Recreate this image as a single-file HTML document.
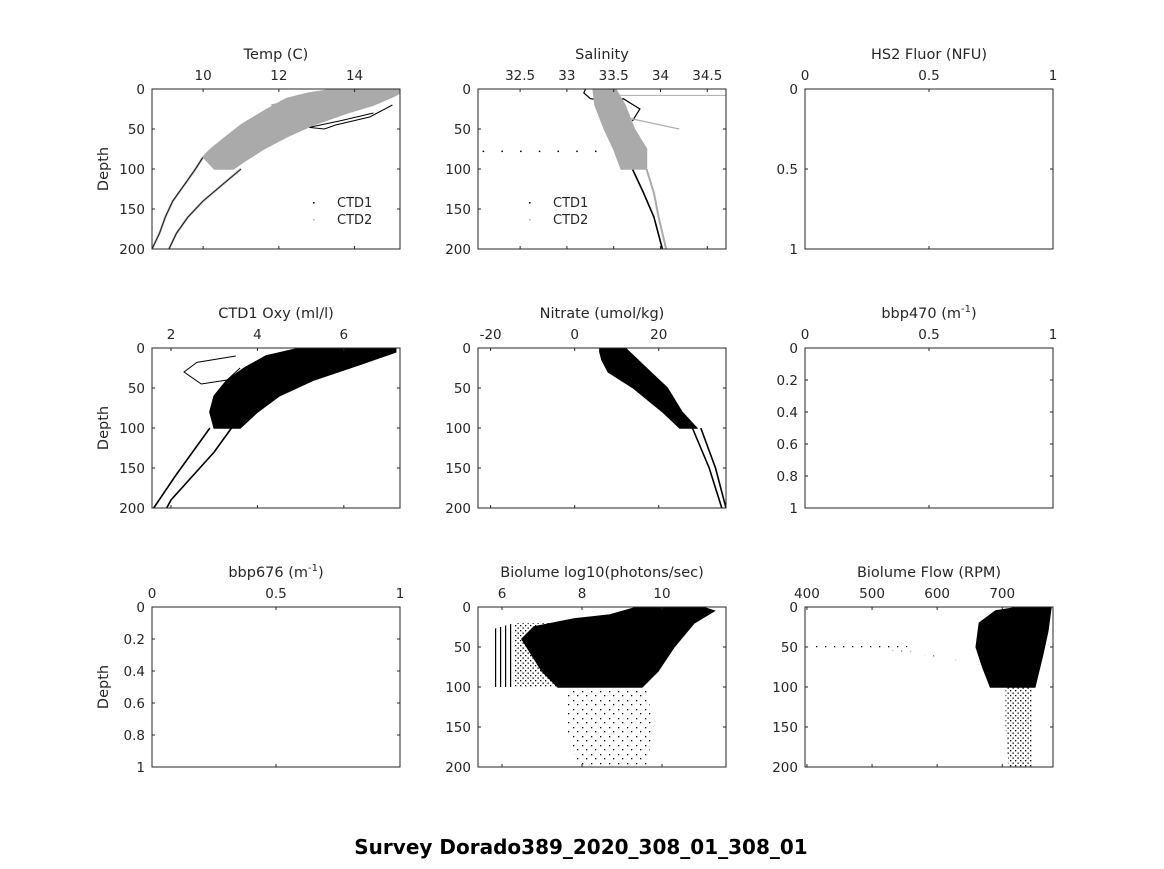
<!DOCTYPE html>
<html><head><meta charset="utf-8"><style>
body{margin:0;background:#fff;width:1164px;height:864px;overflow:hidden}
svg text{font-family:"DejaVu Sans","Liberation Sans",sans-serif;fill:#262626}
</style></head><body>
<svg id="fig" width="1164" height="864" xmlns="http://www.w3.org/2000/svg">
<defs>
<pattern id="sparse" width="5" height="5" patternUnits="userSpaceOnUse"><rect x="0" y="0" width="1.3" height="1.3" fill="#000"/><rect x="2.5" y="2.5" width="1.3" height="1.3" fill="#000"/></pattern>
<pattern id="vlines" width="5" height="5" patternUnits="userSpaceOnUse"><rect x="0" y="0" width="1.2" height="5" fill="#000"/></pattern>
<pattern id="rare" width="9" height="9" patternUnits="userSpaceOnUse"><rect x="1" y="2" width="1.3" height="1.3" fill="#000"/><rect x="6" y="7" width="1.3" height="1.3" fill="#000"/></pattern>
</defs>
<text x="581" y="854" text-anchor="middle" font-size="20" font-weight="bold" style="fill:#000">Survey Dorado389_2020_308_01_308_01</text>
</svg>
<script>
// ---- data (depth, value) ----
const tempBand=[[0,15.2],[0,13.5],[5,12.8],[12,12.2],[25,11.7],[45,11.0],[60,10.6],[75,10.2],[85,10.0],[100,10.3],[100,10.8],[90,11.1],[75,11.6],[60,12.2],[45,12.9],[30,13.8],[20,14.5],[10,15.0],[5,15.2]];
const tempDeepA=[[85,10.0],[100,9.8],[120,9.5],[140,9.2],[160,9.0],[180,8.85],[200,8.65]];
const tempDeepB=[[100,11.0],[120,10.5],[140,10.0],[160,9.6],[180,9.3],[200,9.1]];
const tempLoop=[[5,13.2],[15,12.3],[20,11.8],[15,12.4],[5,13.3],[0,13.8]];
const tempLoop2=[[20,15.0],[35,14.4],[45,13.5],[50,13.2],[48,12.8],[40,13.6],[30,14.5]];
const salBand=[[0,33.28],[20,33.3],[50,33.4],[75,33.5],[100,33.58],[100,33.85],[75,33.85],[50,33.72],[20,33.62],[0,33.52]];
const salDeepA=[[100,33.7],[130,33.82],[160,33.93],[200,34.02]];
const salDeepB=[[100,33.85],[130,33.93],[160,33.98],[200,34.06]];
const salTop=[[0,33.2],[5,33.18],[12,33.25],[15,33.4],[20,33.55],[12,33.6],[25,33.78],[40,33.7]];
const salSpike=[[35,33.6],[50,34.2]];
const salSurf=[[8,33.5],[8,34.75]];
const salDots=[32.1,32.3,32.5,32.7,32.9,33.1,33.3];
const oxyBand=[[0,7.2],[0,5.0],[10,4.2],[25,3.7],[40,3.3],[60,3.0],[80,2.9],[100,3.0],[100,3.6],[80,4.0],[60,4.5],[40,5.3],[20,6.4],[5,7.2]];
const oxyDeepA=[[100,2.9],[130,2.5],[160,2.1],[200,1.6]];
const oxyDeepB=[[100,3.4],[130,3.0],[160,2.5],[190,2.0],[200,1.9]];
const oxyLoop=[[10,3.5],[18,2.6],[30,2.3],[45,2.7],[40,3.3],[25,3.6]];
const nitBand=[[0,6],[5,6],[15,6.5],[30,8],[50,14],[80,21],[100,25],[100,29],[80,25.5],[50,22],[20,16],[0,12]];
const nitDeepA=[[100,28],[150,32],[200,35]];
const nitDeepB=[[100,30],[150,33.5],[200,36]];
const bioDense=[[0,9.4],[0,11.0],[5,11.3],[20,10.8],[50,10.3],[80,9.9],[100,9.5],[100,7.4],[80,7.0],[40,6.5],[25,6.8],[15,7.8],[10,8.7]];
const bioLines=[[20,6.3],[100,6.3],[100,5.75],[28,5.75]];
const bioSparse=[[20,6.3],[20,7.2],[100,7.5],[100,6.3]];
const bioDeep=[[100,7.6],[100,9.6],[150,9.8],[200,9.6],[200,7.9],[150,7.6]];
const flowDense=[[0,728],[0,775],[30,770],[60,762],[100,750],[100,682],[75,670],[50,660],[20,665],[5,690]];
const flowDeep=[[100,705],[150,705],[200,710],[200,745],[150,745],[100,745]];
const flowStray=[[45,430],[48,560],[55,540],[75,700],[70,650],[55,560],[50,400]];
// ---- axes ----
const panels=[
 {n:'temp',t:'Temp (C)',x:152,y:89,xmin:8.65,xmax:15.2,ymax:200,xt:[10,12,14],yt:[0,50,100,150,200],ylab:1},
 {n:'salinity',t:'Salinity',x:478,y:89,xmin:32.05,xmax:34.7,ymax:200,xt:[32.5,33,33.5,34,34.5],yt:[0,50,100,150,200]},
 {n:'hs2-fluor',t:'HS2 Fluor (NFU)',x:805,y:89,xmin:0,xmax:1,ymax:1,xt:[0,0.5,1],yt:[0,0.5,1]},
 {n:'oxygen',t:'CTD1 Oxy (ml/l)',x:152,y:348,xmin:1.56,xmax:7.3,ymax:200,xt:[2,4,6],yt:[0,50,100,150,200],ylab:1},
 {n:'nitrate',t:'Nitrate (umol/kg)',x:478,y:348,xmin:-23,xmax:36,ymax:200,xt:[-20,0,20],yt:[0,50,100,150,200]},
 {n:'bbp470',t:'bbp470 (m<tspan dy="-6" font-size="10">-1</tspan><tspan dy="6">)</tspan>',x:805,y:348,xmin:0,xmax:1,ymax:1,xt:[0,0.5,1],yt:[0,0.2,0.4,0.6,0.8,1]},
 {n:'bbp676',t:'bbp676 (m<tspan dy="-6" font-size="10">-1</tspan><tspan dy="6">)</tspan>',x:152,y:607,xmin:0,xmax:1,ymax:1,xt:[0,0.5,1],yt:[0,0.2,0.4,0.6,0.8,1],ylab:1},
 {n:'biolume',t:'Biolume log10(photons/sec)',x:478,y:607,xmin:5.4,xmax:11.6,ymax:200,xt:[6,8,10],yt:[0,50,100,150,200]},
 {n:'biolume-flow',t:'Biolume Flow (RPM)',x:805,y:607,xmin:397,xmax:778,ymax:200,xt:[400,500,600,700],yt:[0,50,100,150,200]}];
const W=248,H=160,NS='http://www.w3.org/2000/svg',svg=document.getElementById('fig');
function mk(tag,at,parent){const e=document.createElementNS(NS,tag);for(const k in at)e.setAttribute(k,at[k]);(parent||svg).appendChild(e);return e;}
const defs=svg.querySelector('defs');
const P={};
panels.forEach((p,i)=>{
 const g=mk('g',{});
 
 
 const cp=mk('clipPath',{id:'cp'+i},defs);mk('rect',{x:p.x,y:p.y,width:W,height:H},cp);
 p.sx=v=>p.x+(v-p.xmin)/(p.xmax-p.xmin)*W; p.sy=d=>p.y+d/p.ymax*H; p.g=g; P[p.n]=p;
 const dg=mk('g',{'clip-path':'url(#cp'+i+')'},g); p.dg=dg;
 const box=mk('rect',{x:p.x,y:p.y,width:W,height:H,fill:'none',stroke:'#262626','stroke-width':1},g);
 
 
 p.xt.forEach(v=>{const X=p.sx(v);
  mk('line',{x1:X,x2:X,y1:p.y,y2:p.y+3,stroke:'#262626'},g);mk('line',{x1:X,x2:X,y1:p.y+H,y2:p.y+H-3,stroke:'#262626'},g);
  const t=mk('text',{x:X,y:p.y-9,'text-anchor':'middle','font-size':13.5},g);t.textContent=v;
  
  });
 p.yt.forEach(v=>{const Y=p.sy(v);
  mk('line',{x1:p.x,x2:p.x+3,y1:Y,y2:Y,stroke:'#262626'},g);mk('line',{x1:p.x+W,x2:p.x+W-3,y1:Y,y2:Y,stroke:'#262626'},g);
  const t=mk('text',{x:p.x-7,y:Y+5,'text-anchor':'end','font-size':13.5},g);t.textContent=v;
  
  });
 const tt=mk('text',{x:p.x+W/2,y:p.y-30,'text-anchor':'middle','font-size':14.5},g);tt.innerHTML=p.t;
 
 
 if(p.ylab){const yl=mk('text',{x:0,y:0,'text-anchor':'middle','font-size':14.5,transform:`translate(${p.x-44},${p.y+H/2}) rotate(-90)`},g);yl.textContent='Depth';
  
  }
});
function pts(p,a){return a.map(d=>p.sx(d[1]).toFixed(1)+','+p.sy(d[0]).toFixed(1)).join(' ');}
function poly(pn,a,fill,name){const p=P[pn];const e=mk('polygon',{points:pts(p,a),fill:fill,stroke:fill.startsWith('url')?'none':fill,'stroke-width':1.5},p.dg);
 
 }
function line(pn,a,col,name,w){const p=P[pn];const e=mk('polyline',{points:pts(p,a),fill:'none',stroke:col,'stroke-width':w||1.3},p.dg);
 
 }
const GR='#aaaaaa';
// temp
line('temp',tempDeepA,GR,'ctd2-temp-deep-a',2.2);line('temp',tempDeepA,'#000','ctd1-temp-deep-a',0.8);
line('temp',tempDeepB,GR,'ctd2-temp-deep-b',2.2);line('temp',tempDeepB,'#000','ctd1-temp-deep-b',0.8);
line('temp',tempLoop,GR,'ctd2-temp-loop');line('temp',tempLoop2,'#000','ctd1-temp-loop',1);
poly('temp',tempBand,GR,'ctd2-temp-band');
// salinity
line('salinity',salDeepA,'#000','ctd1-sal-deep-a',1.6);line('salinity',salDeepB,GR,'ctd2-sal-deep-b',2);
line('salinity',salTop,'#000','ctd1-sal-top',1.2);line('salinity',salSpike,GR,'ctd2-sal-spike',1.2);
line('salinity',salSurf,GR,'ctd2-sal-surface',1);
poly('salinity',salBand,GR,'ctd2-sal-band');
salDots.forEach(v=>{const p=P.salinity;const r=mk('rect',{x:p.sx(v),y:p.sy(77),width:1.5,height:1.5,fill:'#000'},p.dg);
 
 });
// oxygen
poly('oxygen',oxyBand,'#000','ctd1-oxy-band');
line('oxygen',oxyDeepA,'#000','ctd1-oxy-deep-a',1.6);line('oxygen',oxyDeepB,'#000','ctd1-oxy-deep-b',1.6);
line('oxygen',oxyLoop,'#000','ctd1-oxy-loop',1);
// nitrate
poly('nitrate',nitBand,'#000','nitrate-band');
line('nitrate',nitDeepA,'#000','nitrate-deep-a',1.6);line('nitrate',nitDeepB,'#000','nitrate-deep-b',1.6);
// biolume
poly('biolume',bioDeep,'url(#rare)','biolume-deep-scatter');
poly('biolume',bioLines,'url(#vlines)','biolume-low-lines');
poly('biolume',bioSparse,'url(#sparse)','biolume-sparse');
poly('biolume',bioDense,'#000','biolume-dense');
// flow
poly('biolume-flow',flowStray,'url(#rare)','flow-stray');
poly('biolume-flow',flowDeep,'url(#sparse)','flow-deep');
poly('biolume-flow',flowDense,'#000','flow-dense');
// legends
[['temp',337,202],['salinity',553,202]].forEach(([n,x,y])=>{
 ['CTD1','CTD2'].forEach((s,i)=>{const t=mk('text',{x:x,y:y+i*17+5,'font-size':13});t.textContent=s;
  
  
  mk('rect',{x:x-24,y:y+i*17,width:1.5,height:1.5,fill:i?GR:'#000'});});
});
</script>
</body></html>
